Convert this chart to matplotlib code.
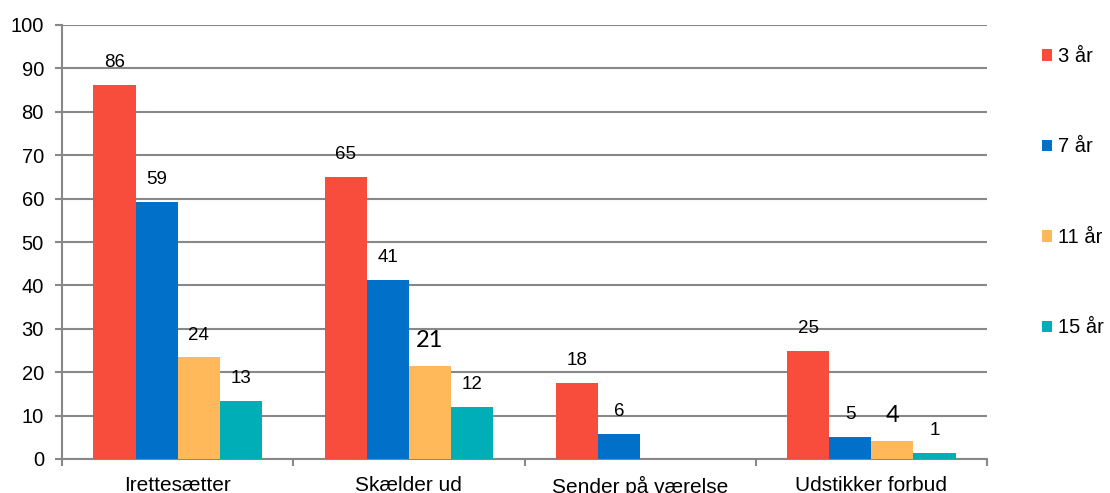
import numpy as np
import matplotlib
matplotlib.use("Agg")
import matplotlib.pyplot as plt

plt.rcParams['font.family'] = ['Liberation Sans', 'DejaVu Sans']

# Data
categories = ["Irettesætter", "Skælder ud", "Sender på værelse", "Udstikker forbud"]
series = ["3 år", "7 år", "11 år", "15 år"]

# bar heights as drawn
age3 = [86.2, 65.0, 17.5, 25.0]
age7 = [59.2, 41.3, 5.7, 5.1]
age11 = [23.4, 21.4, np.nan, 4.1]
age15 = [13.4, 11.9, np.nan, 1.3]

# numbers printed above the bars
lab3 = ["86", "65", "18", "25"]
lab7 = ["59", "41", "6", "5"]
lab11 = ["24", "21", "", "4"]
lab15 = ["13", "12", "", "1"]

colors = ["#F84C3C", "#0070C8", "#FFB85A", "#00AEB8"]
heights = [age3, age7, age11, age15]
labels = [lab3, lab7, lab11, lab15]
# these two labels are set in a larger font in the original
big = {(2, 1), (2, 3)}

fig = plt.figure(figsize=(11.10, 4.93), dpi=100)
ax = fig.add_axes([62 / 1110, 1 - 459 / 493, (987 - 62) / 1110, (459 - 25) / 493])

x = np.arange(len(categories))
w = 0.182
for i, (vals, labs) in enumerate(zip(heights, labels)):
    pos = x + (i - 1.5) * w
    ax.bar(pos, vals, width=w, color=colors[i], label=series[i], zorder=3)
    for j, (p, v, t) in enumerate(zip(pos, vals, labs)):
        if not t:
            continue
        if (i, j) in big:
            ax.annotate(t, (p, v), xytext=(0, 11), textcoords="offset points",
                        ha="center", va="bottom", fontsize=17,
                        family=["Lato", "DejaVu Sans"])
        else:
            ax.annotate(t, (p, v), xytext=(0, 10), textcoords="offset points",
                        ha="center", va="bottom", fontsize=13.5)

ax.set_xlim(-0.5, len(categories) - 0.5)
ax.set_ylim(0, 100)
ax.set_yticks(range(0, 101, 10))
ax.yaxis.grid(True, color="#888888", linewidth=1.5, zorder=0)
ax.set_axisbelow(True)

ax.set_xticks(x)
ax.set_xticklabels(categories, fontsize=15)
ax.set_xticks(np.arange(-0.5, len(categories)), minor=True)
ax.tick_params(axis="x", which="major", length=0, pad=12)
ax.tick_params(axis="x", which="minor", length=5, width=1.5, color="#888888")
ax.tick_params(axis="y", length=5, width=1.5, color="#888888", labelsize=14.5, pad=8)

for s in ["top", "right"]:
    ax.spines[s].set_visible(False)
for s in ["left", "bottom"]:
    ax.spines[s].set_color("#888888")
    ax.spines[s].set_linewidth(1.5)

ax.legend(loc="upper left", bbox_to_anchor=(1042 / 1110, 1 - 47 / 493),
          bbox_transform=fig.transFigure, frameon=False, fontsize=14.5,
          handlelength=0.5, handleheight=0.5, handletextpad=0.3,
          labelspacing=3.55, borderpad=0, borderaxespad=0)

plt.savefig("out.png", dpi=100)
